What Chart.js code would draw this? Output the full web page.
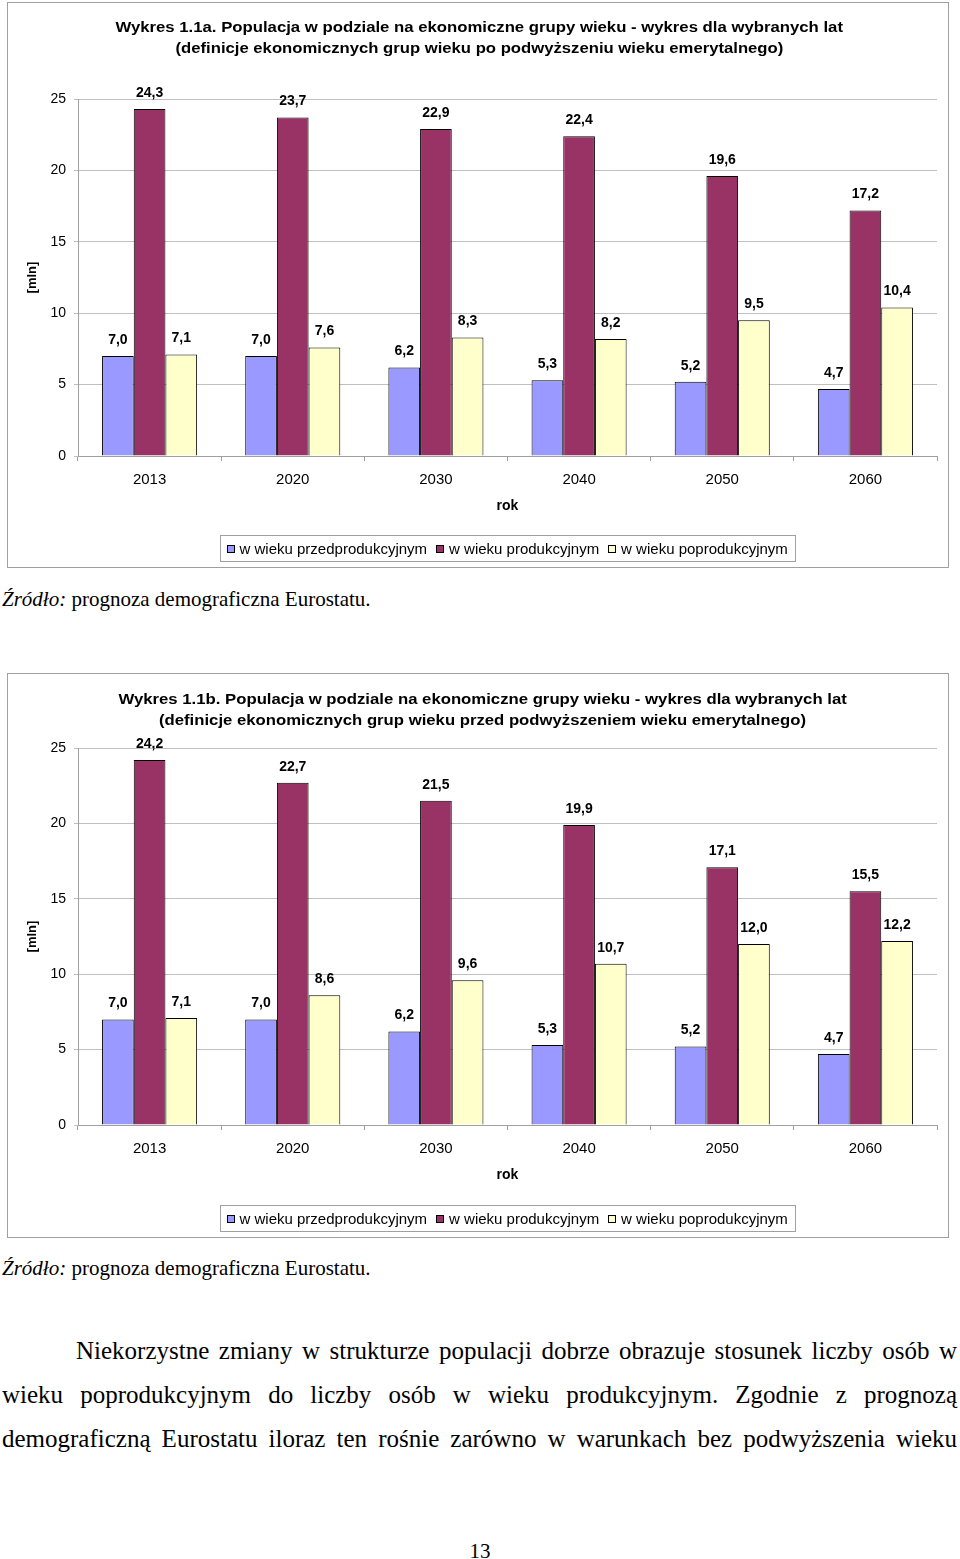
<!DOCTYPE html>
<html><head><meta charset="utf-8">
<script src="https://cdn.jsdelivr.net/npm/chart.js@4/dist/chart.umd.min.js"></script>
<style>
html,body{margin:0;padding:0;background:#fff;}
body{width:960px;height:1559px;position:relative;overflow:hidden;}
.box{position:absolute;border:1px solid #a0a0a0;box-sizing:border-box;}
canvas{position:absolute;left:0;}
.ttl{position:absolute;white-space:nowrap;font:bold 15px "Liberation Sans",Arial,sans-serif;color:#000;line-height:18px;transform-origin:center center;}
.src{position:absolute;left:2px;font:21px "Liberation Serif","Times New Roman",serif;white-space:nowrap;line-height:24px;}
.par{position:absolute;left:2px;width:955px;font:25px "Liberation Serif","Times New Roman",serif;line-height:30px;text-align:justify;text-align-last:justify;white-space:nowrap;}
.pn{position:absolute;left:0;width:960px;text-align:center;font:21px "Liberation Serif","Times New Roman",serif;line-height:22px;}
</style></head><body>
<div class="box" style="left:7px;top:2px;width:942px;height:566px;"></div>
<div class="box" style="left:7px;top:673px;width:942px;height:565px;"></div>
<canvas id="c1" width="960" height="570" style="top:0px"></canvas>
<canvas id="c2" width="960" height="570" style="top:670px"></canvas>
<div class="ttl" data-cx="478.5" data-cy="27" data-w="727">Wykres 1.1a. Populacja w podziale na ekonomiczne grupy wieku - wykres dla wybranych lat</div>
<div class="ttl" data-cx="479" data-cy="48" data-w="608">(definicje ekonomicznych grup wieku po podwyższeniu wieku emerytalnego)</div>
<div class="ttl" data-cx="482" data-cy="699" data-w="728">Wykres 1.1b. Populacja w podziale na ekonomiczne grupy wieku - wykres dla wybranych lat</div>
<div class="ttl" data-cx="482.5" data-cy="720" data-w="647">(definicje ekonomicznych grup wieku przed podwyższeniem wieku emerytalnego)</div>
<div class="src" style="top:587px"><i>Źródło:</i> prognoza demograficzna Eurostatu.</div>
<div class="src" style="top:1256px"><i>Źródło:</i> prognoza demograficzna Eurostatu.</div>
<div class="par" style="top:1336px;left:76px;width:881px;">Niekorzystne zmiany w strukturze populacji dobrze obrazuje stosunek liczby osób w</div>
<div class="par" style="top:1380px">wieku poprodukcyjnym do liczby osób w wieku produkcyjnym. Zgodnie z prognozą</div>
<div class="par" style="top:1424px">demograficzną Eurostatu iloraz ten rośnie zarówno w warunkach bez podwyższenia wieku</div>
<div class="pn" style="top:1540px">13</div>
<script>
// ---- data ----
const years = ['2013', '2020', '2030', '2040', '2050', '2060'];
const seriesNames = ['w wieku przedprodukcyjnym', 'w wieku produkcyjnym', 'w wieku poprodukcyjnym'];
const yTicks = [0, 5, 10, 15, 20, 25];
const a_pre  = [7.0, 7.0, 6.2, 5.3, 5.2, 4.7];
const a_prod = [24.3, 23.7, 22.9, 22.4, 19.6, 17.2];
const a_post = [7.1, 7.6, 8.3, 8.2, 9.5, 10.4];
const b_pre  = [7.0, 7.0, 6.2, 5.3, 5.2, 4.7];
const b_prod = [24.2, 22.7, 21.5, 19.9, 17.1, 15.5];
const b_post = [7.1, 8.6, 9.6, 10.7, 12.0, 12.2];
const xTitle = 'rok';
const yTitle = '[mln]';

const colors = ['#9999FF', '#993366', '#FFFFCC'];
const SANS = '"Liberation Sans", Arial, sans-serif';

// fit title widths
document.querySelectorAll('.ttl').forEach(el => {
  const w = el.offsetWidth, h = el.offsetHeight;
  const cx = +el.dataset.cx, cy = +el.dataset.cy, tw = +el.dataset.w;
  el.style.left = (cx - w / 2) + 'px';
  el.style.top = (cy - h / 2) + 'px';
  el.style.transform = 'scaleX(' + (tw / w) + ')';
});

const valueLabels = {
  id: 'valueLabels',
  afterDatasetsDraw(chart) {
    const ctx = chart.ctx;
    ctx.save();
    ctx.font = 'bold 14px ' + SANS;
    ctx.fillStyle = '#000';
    ctx.textAlign = 'center';
    ctx.textBaseline = 'middle';
    chart.data.datasets.forEach((ds, i) => {
      const meta = chart.getDatasetMeta(i);
      meta.data.forEach((bar, j) => {
        const v = ds.data[j];
        ctx.fillText(v.toFixed(1).replace('.', ','), bar.x, bar.y - 16);
      });
    });
    ctx.restore();
  }
};

const boxLegend = {
  id: 'boxLegend',
  afterDraw(chart) {
    const ctx = chart.ctx;
    ctx.save();
    ctx.font = '15px ' + SANS;
    const items = chart.data.datasets.map(ds => ({ label: ds.label, color: ds.backgroundColor, w: ctx.measureText(ds.label).width }));
    const mark = 8, gapM = 5, gapI = 9, padL = 6, padR = 8;
    let total = padL + padR;
    items.forEach((it, k) => { total += mark + gapM + it.w + (k < items.length - 1 ? gapI : 0); });
    const cx = 507.5, top = 535.5, h = 26;
    const left = Math.round(cx - total / 2) + 0.5;
    ctx.strokeStyle = '#a0a0a0';
    ctx.lineWidth = 1;
    ctx.strokeRect(left, top, Math.round(total), h);
    let x = left + padL;
    const my = top + h / 2;
    ctx.textBaseline = 'middle';
    items.forEach(it => {
      ctx.fillStyle = it.color;
      ctx.fillRect(Math.round(x), Math.round(my - 4), mark, mark);
      ctx.strokeStyle = '#000';
      ctx.strokeRect(Math.round(x) + 0.5, Math.round(my - 4) + 0.5, mark - 1, mark - 1);
      x += mark + gapM;
      ctx.fillStyle = '#000';
      ctx.fillText(it.label, x, my + 1);
      x += it.w + gapI;
    });
    ctx.restore();
  }
};

function makeChart(id, pre, prod, post, padTop, padBottom) {
  const data = [pre, prod, post];
  return new Chart(document.getElementById(id), {
    type: 'bar',
    data: {
      labels: years,
      datasets: seriesNames.map((n, i) => ({
        label: n, data: data[i], backgroundColor: colors[i], borderColor: '#000', borderWidth: 1,
        categoryPercentage: 0.664, barPercentage: 1.0
      }))
    },
    options: {
      responsive: false, animation: false, devicePixelRatio: 1,
      layout: { padding: { left: 0, top: padTop, right: 23, bottom: padBottom } },
      plugins: { legend: { display: false }, tooltip: { enabled: false }, title: { display: false } },
      scales: {
        x: {
          grid: { display: true, drawOnChartArea: false, drawTicks: true, tickLength: 5, color: '#a0a0a0', offset: true },
          border: { color: '#a0a0a0' },
          ticks: { color: '#000', font: { family: SANS, size: 15 }, padding: 10 },
          title: { display: true, text: xTitle, color: '#000', font: { family: SANS, size: 14, weight: 'bold' }, padding: { top: 0, bottom: 1 } },
          afterFit(s) { s.height = 60; }
        },
        y: {
          min: yTicks[0], max: yTicks[yTicks.length - 1],
          afterBuildTicks(s) { s.ticks = yTicks.map(v => ({ value: v })); },
          grid: { color: '#c0c0c0', tickLength: 4 },
          border: { color: '#a0a0a0' },
          ticks: { color: '#000', font: { family: SANS, size: 14 }, padding: 8 },
          title: { display: true, text: yTitle, color: '#000', font: { family: SANS, size: 13, weight: 'bold' }, padding: { top: 25, bottom: 0 } },
          afterFit(s) { s.width = 78; }
        }
      }
    },
    plugins: [valueLabels, boxLegend]
  });
}

makeChart('c1', a_pre, a_prod, a_post, 99, 54);
makeChart('c2', b_pre, b_prod, b_post, 78, 55);
</script>
</body></html>
